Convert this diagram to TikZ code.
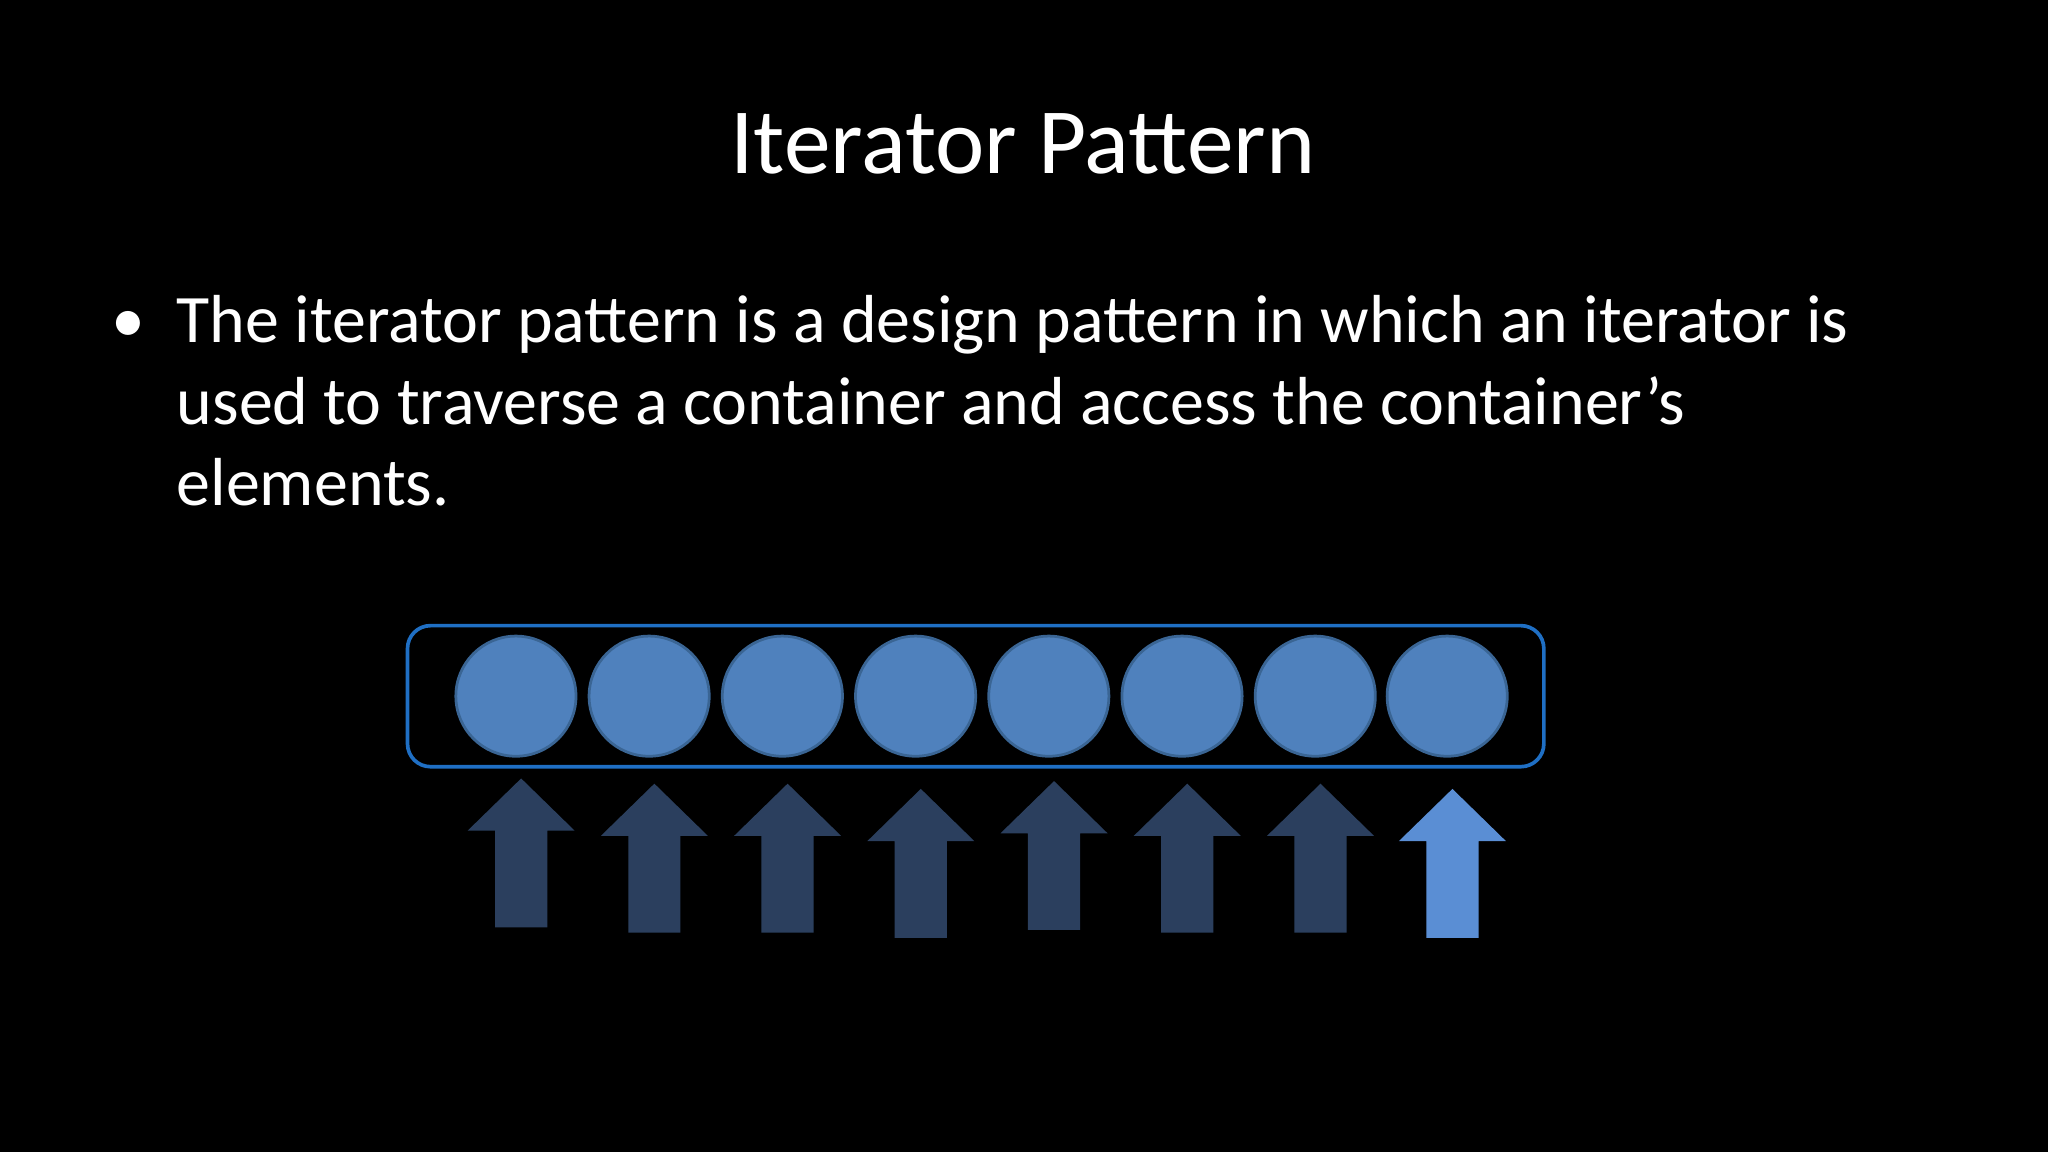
\documentclass[tikz,border=0pt]{standalone}
\usepackage{fontspec}
\setmainfont{Carlito}
\definecolor{ring}{HTML}{1F6FC4}
\definecolor{ball}{HTML}{4F81BD}
\definecolor{ballline}{HTML}{3A6594}
\definecolor{darkarrow}{HTML}{2B3F5E}
\definecolor{litearrow}{HTML}{5A8ED4}
\begin{document}
\begin{tikzpicture}[x=0.02cm,y=-0.02cm,
  body/.style={anchor=base west,text=white,font=\fontsize{29.6}{35}\selectfont,inner sep=0},
  elem/.style={circle,minimum size=92*0.02cm,fill=ball,draw=ballline,line width=1.2pt,inner sep=0},
  darr/.style={fill=darkarrow},
  larr/.style={fill=litearrow}]
\fill[black] (0,0) rectangle (1568,882);
\useasboundingbox (0,0) rectangle (1568,882);
\node[anchor=base,text=white,font=\fontsize{40.7}{48}\selectfont,inner sep=0] (title) at (783,133) {Iterator Pattern};
\node[anchor=base,text=white,font=\fontsize{29.6}{35}\selectfont,inner sep=0] (bul) at (98,262) {•};
\node[body] (l1) at (135,262) {The iterator pattern is a design pattern in which an iterator is};
\node[body] (l2) at (135,325) {used to traverse a container and access the container's};
\node[body] (l3) at (135,387) {elements.};
\node[draw=ring,line width=1.6pt,rounded corners=10pt,minimum width=870*0.02cm,minimum height=108*0.02cm] (box) at (747,533) {};
\foreach \x [count=\i] in {395,497,599,701,803,905,1007,1108}
  \node[elem] (c\i) at (\x,533) {};
\foreach \x/\t/\b/\s in {399/596/710/darr,501/600/714/darr,603/600/714/darr,705/604/718/darr,807/598/712/darr,909/600/714/darr,1011/600/714/darr,1112/604/718/larr}
  \fill[\s] (\x-41,\t+40) -- (\x,\t) -- (\x+41,\t+40) -- (\x+20,\t+40) -- (\x+20,\b) -- (\x-20,\b) -- (\x-20,\t+40) -- cycle;
\end{tikzpicture}
\end{document}
